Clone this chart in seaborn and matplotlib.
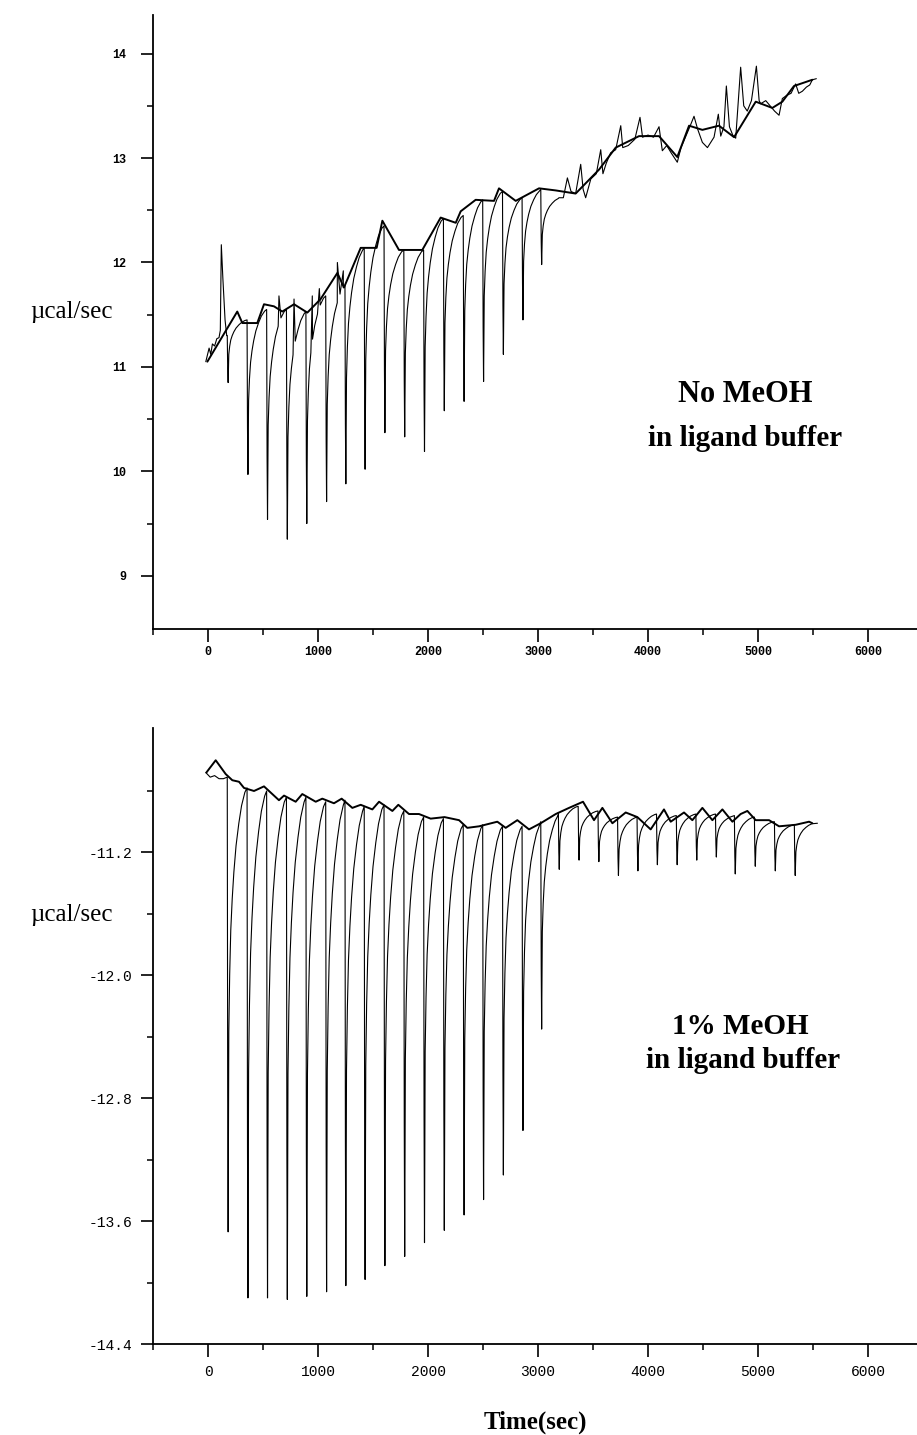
import matplotlib
matplotlib.use("Agg")
import matplotlib.pyplot as plt
import pandas as pd
import seaborn as sns

# --- data (time in sec, power in ucal/sec) ---

# injection times (shared by both runs)
inj_time = [175, 355, 533, 713, 890, 1070, 1245, 1420, 1600, 1780, 1960, 2140,
            2320, 2497, 2677, 2855, 3025, 3185, 3365, 3545, 3723, 3900, 4077,
            4257, 4435, 4613, 4785, 4967, 5149, 5330]

# recovery shape of a peak after an injection (seconds after injection, fraction of depth)
recovery_dt = [0, 4, 8, 14, 22, 32, 45, 60, 80, 105, 130, 160]
recovery_frac = [0, 0.7, 1.0, 0.55, 0.42, 0.32, 0.25, 0.19, 0.13, 0.08, 0.04, 0.01]

# top run: no MeOH
top_start_t = [-20, 10, 25, 40, 60, 80, 100, 112, 121, 135, 155, 170]
top_start_v = [11.05, 11.18, 11.12, 11.22, 11.20, 11.27, 11.28, 11.35, 12.17, 11.85, 11.45, 11.30]
top_pre = [11.30, 11.45, 11.55, 11.55, 11.53, 11.68, 11.78, 12.14, 12.35, 12.12, 12.12,
           12.42, 12.45, 12.60, 12.68, 12.62, 12.70]
top_min = [10.85, 9.97, 9.54, 9.35, 9.50, 9.71, 9.88, 10.02, 10.37, 10.33, 10.19,
           10.58, 10.67, 10.86, 11.12, 11.45, 11.98]
top_blip_t = [645, 782, 948, 1012, 1176, 1230]
top_blip_v = [11.68, 11.65, 11.68, 11.75, 12.00, 11.92]
top_tail_t = [3190, 3230, 3267, 3300, 3342, 3388, 3410, 3433, 3480, 3530, 3570, 3590,
              3620, 3660, 3706, 3752, 3770, 3820, 3880, 3927, 3950, 4000, 4050, 4100,
              4130, 4170, 4210, 4266, 4300, 4340, 4380, 4418, 4450, 4494, 4540, 4600,
              4639, 4661, 4690, 4712, 4740, 4770, 4797, 4842, 4870, 4902, 4940, 4985,
              5010, 5024, 5070, 5110, 5150, 5191, 5221, 5260, 5300, 5342, 5370, 5403,
              5440, 5470, 5494, 5530]
top_tail_v = [12.62, 12.62, 12.81, 12.68, 12.66, 12.94, 12.70, 12.62, 12.80, 12.85, 13.08, 12.85,
              12.95, 13.05, 13.08, 13.31, 13.10, 13.12, 13.18, 13.39, 13.20, 13.22, 13.20, 13.30,
              13.07, 13.12, 13.05, 12.96, 13.10, 13.20, 13.30, 13.40, 13.28, 13.15, 13.10, 13.20,
              13.42, 13.21, 13.30, 13.69, 13.30, 13.22, 13.19, 13.87, 13.50, 13.45, 13.55, 13.88,
              13.55, 13.52, 13.55, 13.50, 13.45, 13.41, 13.57, 13.60, 13.62, 13.71, 13.62, 13.64,
              13.68, 13.70, 13.75, 13.76]
top_fit_t = [-6, 266, 312, 448, 509, 600, 675, 782, 903, 1024, 1176, 1236, 1388, 1533,
             1585, 1736, 1948, 2115, 2252, 2297, 2433, 2600, 2645, 2797, 3009, 3161,
             3342, 3555, 3706, 3918, 4100, 4266, 4373, 4494, 4645, 4782, 4979, 5130,
             5221, 5327, 5494]
top_fit_v = [11.05, 11.53, 11.42, 11.42, 11.60, 11.58, 11.53, 11.60, 11.52, 11.65, 11.90,
             11.76, 12.14, 12.14, 12.40, 12.12, 12.12, 12.43, 12.38, 12.49, 12.60, 12.59,
             12.71, 12.59, 12.71, 12.69, 12.66, 12.89, 13.10, 13.21, 13.21, 13.01, 13.31,
             13.27, 13.31, 13.20, 13.54, 13.48, 13.54, 13.69, 13.75]

# bottom run: 1% MeOH
bot_start_t = [-20, 20, 60, 100, 140]
bot_start_v = [-10.68, -10.71, -10.70, -10.72, -10.72]
bot_pre = [-10.71, -10.78, -10.80, -10.84, -10.84, -10.87, -10.86, -10.90, -10.89, -10.93,
           -10.97, -10.98, -11.02, -11.02, -11.03, -11.03, -11.00, -10.94, -10.90, -10.93,
           -10.97, -10.97, -10.95, -10.96, -10.95, -10.95, -10.96, -10.97, -11.00, -11.02]
bot_min = [-13.67, -14.10, -14.10, -14.11, -14.09, -14.06, -14.02, -13.98, -13.89, -13.83,
           -13.74, -13.66, -13.56, -13.46, -13.30, -13.01, -12.35,
           -11.31, -11.25, -11.26, -11.35, -11.32, -11.28, -11.28, -11.25, -11.23, -11.34,
           -11.29, -11.32, -11.35]
bot_end_t = [5540]
bot_end_v = [-11.01]
bot_fit_t = [-15, 70, 161, 221, 282, 327, 418, 509, 645, 691, 797, 857, 979, 1039, 1145,
             1215, 1312, 1388, 1494, 1555, 1676, 1730, 1827, 1918, 2024, 2150, 2282, 2357,
             2464, 2630, 2706, 2812, 2918, 3024, 3161, 3282, 3409, 3509, 3585, 3676, 3797,
             3903, 4024, 4145, 4206, 4327, 4403, 4494, 4585, 4676, 4767, 4842, 4903, 4979,
             5100, 5191, 5342, 5464, 5494]
bot_fit_v = [-10.68, -10.60, -10.69, -10.73, -10.74, -10.78, -10.80, -10.77, -10.86, -10.83,
             -10.87, -10.82, -10.87, -10.85, -10.88, -10.85, -10.91, -10.89, -10.92, -10.87,
             -10.93, -10.89, -10.95, -10.95, -10.98, -10.97, -10.99, -11.04, -11.03, -11.00,
             -11.04, -10.99, -11.05, -11.01, -10.95, -10.91, -10.87, -10.99, -10.91, -11.01,
             -10.94, -10.97, -11.05, -10.92, -11.00, -10.94, -10.99, -10.91, -10.99, -10.92,
             -11.00, -10.95, -10.93, -10.99, -10.99, -11.03, -11.02, -11.00, -11.01]

x_ticks = [0, 1000, 2000, 3000, 4000, 5000, 6000]
top_yticks = [9, 10, 11, 12, 13, 14]
bot_yticks = [-14.4, -13.6, -12.8, -12.0, -11.2]


def build_trace(times, pre, mins, end_v):
    # raw thermogram: drop at each injection, then recover to the next pre-injection level
    t_out, v_out = [], []
    for i in range(len(pre)):
        nxt = pre[i + 1] if i + 1 < len(pre) else end_v
        for dt, f in zip(recovery_dt, recovery_frac):
            if dt < 8:
                v = pre[i] + f * (mins[i] - pre[i])
            else:
                v = nxt + f * (mins[i] - nxt)
            t_out.append(times[i] + dt)
            v_out.append(v)
    return t_out, v_out


n_top = len(top_pre)
t_inj, v_inj = build_trace(inj_time[:n_top], top_pre, top_min, top_tail_v[0])
top_raw = pd.DataFrame({"t": top_start_t + t_inj + top_blip_t + top_tail_t,
                        "v": top_start_v + v_inj + top_blip_v + top_tail_v}).sort_values("t")
top_fit = pd.DataFrame({"t": top_fit_t, "v": top_fit_v})

t_inj, v_inj = build_trace(inj_time, bot_pre, bot_min, bot_end_v[0])
bot_raw = pd.DataFrame({"t": bot_start_t + t_inj + bot_end_t,
                        "v": bot_start_v + v_inj + bot_end_v})
bot_fit = pd.DataFrame({"t": bot_fit_t, "v": bot_fit_v})

# --- figure ---
sns.set_theme(style="ticks")
plt.rcParams["font.family"] = ["Liberation Mono", "DejaVu Sans"]
plt.rcParams["text.color"] = "black"
plt.rcParams["xtick.color"] = "black"
plt.rcParams["ytick.color"] = "black"
plt.rcParams["xtick.labelcolor"] = "black"
plt.rcParams["ytick.labelcolor"] = "black"

W, H = 917, 1435
fig = plt.figure(figsize=(W / 100, H / 100), dpi=100)
ax1 = fig.add_axes([153 / W, (H - 629) / H, (W - 153) / W, (629 - 15) / H])
ax2 = fig.add_axes([153 / W, (H - 1344) / H, (W - 153) / W, (1344 - 728) / H])

for ax, raw, fit in [(ax1, top_raw, top_fit), (ax2, bot_raw, bot_fit)]:
    sns.lineplot(data=raw, x="t", y="v", ax=ax, sort=False, estimator=None,
                 color="black", linewidth=0.8)
    sns.lineplot(data=fit, x="t", y="v", ax=ax, sort=False, estimator=None,
                 color="black", linewidth=1.4)
    ax.set_xlim(-500, 6445)
    ax.set_xticks(x_ticks)
    ax.set_xticks([-500 + 1000 * k for k in range(7)], minor=True)
    ax.set_xlabel("")
    ax.set_ylabel("")
    sns.despine(ax=ax)
    for s in ["left", "bottom"]:
        ax.spines[s].set_linewidth(1.3)
        ax.spines[s].set_color("black")

ax1.set_ylim(8.49, 14.37)
ax1.set_yticks(top_yticks)
ax1.set_yticks([9.5, 10.5, 11.5, 12.5, 13.5], minor=True)
ax1.tick_params(axis="both", which="major", length=9, width=1.2, color="black",
                labelsize=8.5, pad=3)
ax1.tick_params(axis="y", which="major", pad=10)
ax1.tick_params(axis="both", which="minor", length=4.5, width=1.1, color="black")
for lbl in ax1.get_xticklabels() + ax1.get_yticklabels():
    lbl.set_fontweight("bold")

ax2.set_ylim(-14.4, -10.39)
ax2.set_yticks(bot_yticks)
ax2.set_yticklabels([f"{v:.1f}" for v in bot_yticks])
ax2.set_yticks([-14.0, -13.2, -12.4, -11.6, -10.8], minor=True)
ax2.tick_params(axis="both", which="major", length=9, width=1.2, color="black",
                labelsize=10.5, pad=6)
ax2.tick_params(axis="both", which="minor", length=4.5, width=1.1, color="black")

serif = ["Liberation Serif", "DejaVu Serif"]


def fig_text(x, y, s, **kw):
    fig.text(x / W, 1 - y / H, s, family=serif, color="black", **kw)


fig_text(113, 312, "\u00b5cal/sec", fontsize=18, ha="right", va="center")
fig_text(113, 915, "\u00b5cal/sec", fontsize=18, ha="right", va="center")
fig_text(745, 395, "No MeOH", fontsize=22, fontweight="bold", ha="center", va="center")
fig_text(745, 438, "in ligand buffer", fontsize=21, fontweight="bold", ha="center", va="center")
fig_text(740, 1026, "1% MeOH", fontsize=21, fontweight="bold", ha="center", va="center")
fig_text(743, 1061, "in ligand buffer", fontsize=21, fontweight="bold", ha="center", va="center")
fig_text(535, 1422, "Time(sec)", fontsize=18, fontweight="bold", ha="center", va="center")

fig.savefig("out.png", dpi=100, facecolor="white")
